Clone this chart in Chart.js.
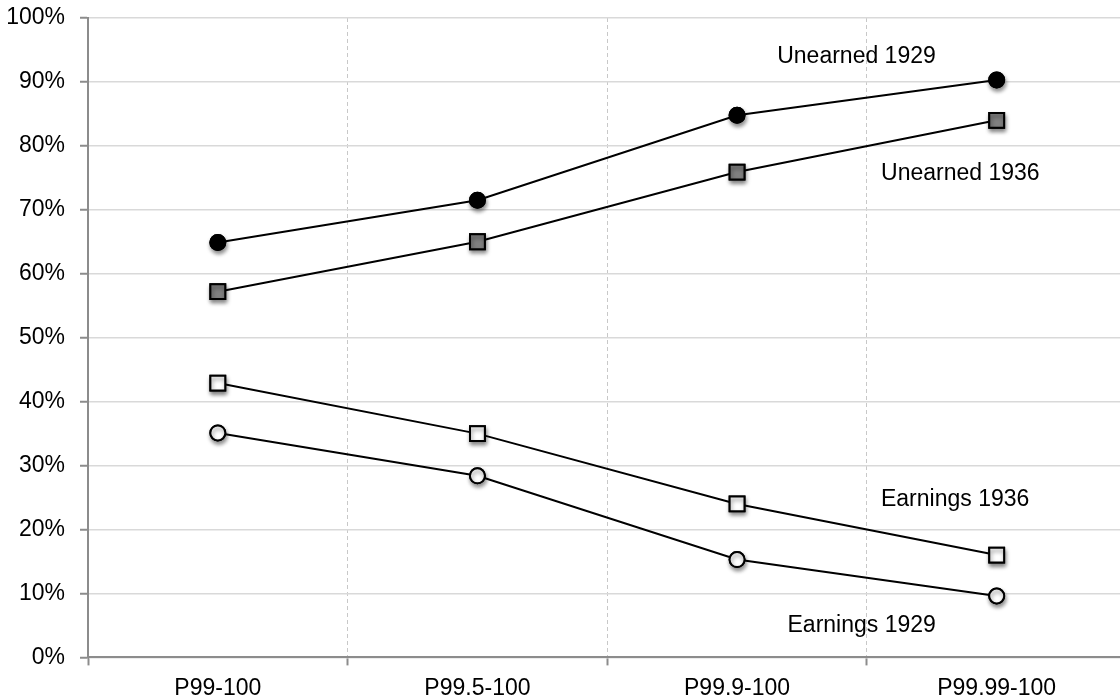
<!DOCTYPE html>
<html>
<head>
<meta charset="utf-8">
<script src="https://cdn.jsdelivr.net/npm/chart.js@4/dist/chart.umd.min.js"></script>
<style>
  html, body { margin: 0; padding: 0; background: #fff; overflow: hidden; }
  canvas { display: block; }
</style>
</head>
<body>
<canvas id="chart" width="1139" height="700"></canvas>
<script>
// categories (top income groups)
const groups = ['P99-100', 'P99.5-100', 'P99.9-100', 'P99.99-100'];

// share of income, %
const unearned1929 = [64.9, 71.5, 84.8, 90.3];
const unearned1936 = [57.2, 65.0, 75.9, 84.0];
const earnings1936 = [42.9, 35.0, 24.0, 16.0];
const earnings1929 = [35.1, 28.4, 15.3, 9.6];

// text labels next to the lines: [text, category position, value]
const lineLabels = [
  ['Unearned 1929', 2.46, 93.9],
  ['Unearned 1936', 2.86, 75.7],
  ['Earnings 1936', 2.84, 24.6],
  ['Earnings 1929', 2.48, 5.0]
];

const FONT = '"Liberation Sans", Arial, Helvetica, sans-serif';
Chart.defaults.font.family = FONT;
Chart.defaults.color = '#000';

// redraw the markers with a soft drop shadow
const markerShadow = {
  id: 'markerShadow',
  afterDatasetsDraw(chart) {
    const ctx = chart.ctx;
    ctx.save();
    ctx.shadowColor = 'rgba(0,0,0,0.45)';
    ctx.shadowBlur = 4;
    ctx.shadowOffsetX = 1;
    ctx.shadowOffsetY = 3;
    chart.data.datasets.forEach((ds, i) => {
      chart.getDatasetMeta(i).data.forEach(p => p.draw(ctx, chart.chartArea));
    });
    ctx.restore();
  }
};

// series names written on the chart
const seriesText = {
  id: 'seriesText',
  afterDraw(chart) {
    const ctx = chart.ctx;
    const x = chart.scales.x, y = chart.scales.y;
    ctx.save();
    ctx.font = '23px ' + FONT;
    ctx.fillStyle = '#000';
    ctx.textAlign = 'center';
    ctx.textBaseline = 'middle';
    lineLabels.forEach(([t, cx, v]) => {
      ctx.fillText(t, x.getPixelForValue(cx), y.getPixelForValue(v));
    });
    ctx.restore();
  }
};

function series(data, style, bg, r) {
  return {
    data: data,
    borderColor: '#000',
    borderWidth: 2,
    pointStyle: style,
    pointRadius: r,
    pointHoverRadius: r,
    pointBackgroundColor: bg,
    pointBorderColor: '#000',
    pointBorderWidth: 2,
    tension: 0
  };
}

new Chart(document.getElementById('chart'), {
  type: 'line',
  data: {
    labels: groups,
    datasets: [
      series(unearned1929, 'circle', '#000', 7.5),
      series(unearned1936, 'rect', '#808080', 10.5),
      series(earnings1936, 'rect', '#fff', 10.5),
      series(earnings1929, 'circle', '#fff', 7.5)
    ]
  },
  options: {
    responsive: false,
    animation: false,
    layout: { padding: { top: 0, right: 5, left: 4, bottom: -11 } },
    plugins: { legend: { display: false }, tooltip: { enabled: false } },
    scales: {
      x: {
        offset: true,
        grid: {
          offset: true,
          color: ctx => ctx.index === 0 ? 'rgba(0,0,0,0)' : '#c8c8c8',
          lineWidth: 1,
          tickLength: 8,
          tickColor: '#8c8c8c',
          tickWidth: 2
        },
        border: { display: true, color: '#8c8c8c', width: 2, dash: [4, 3] },
        ticks: { font: { size: 23 }, padding: 9, color: '#000' }
      },
      y: {
        min: 0,
        max: 100,
        afterFit: s => { s.width = 84; s.paddingTop = 18; },
        grid: {
          color: '#d9d9d9',
          lineWidth: 1.5,
          tickLength: 8,
          tickColor: '#8c8c8c',
          tickWidth: 2
        },
        border: { display: true, color: '#8c8c8c', width: 2 },
        ticks: {
          stepSize: 10,
          font: { size: 23 },
          padding: 15,
          color: '#000',
          callback: v => v + '%'
        }
      }
    }
  },
  plugins: [markerShadow, seriesText]
});
</script>
</body>
</html>
